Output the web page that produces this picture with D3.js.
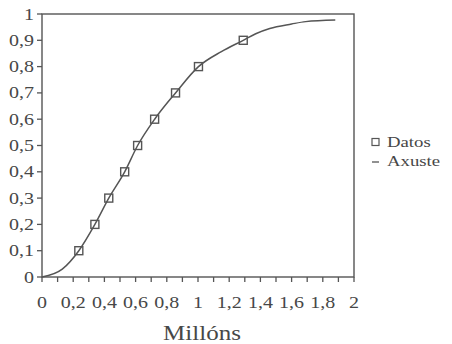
<!DOCTYPE html>
<html>
<head>
<meta charset="utf-8">
<script src="https://cdn.jsdelivr.net/npm/d3@7"></script>
<style>
  html, body { margin: 0; padding: 0; background: #fff; }
</style>
</head>
<body>
<svg id="chart" width="452" height="344"></svg>
<script>
// Observed data (millions, cumulative fraction)
const datosX = [0.236, 0.339, 0.428, 0.53, 0.613, 0.722, 0.856, 1.003, 1.29];
const datosY = [0.1, 0.2, 0.3, 0.4, 0.5, 0.6, 0.7, 0.8, 0.9];

// Fitted curve
const axusteX = [0, 0.13, 0.236, 0.339, 0.428, 0.53, 0.613, 0.722, 0.856, 1.003, 1.15, 1.29, 1.37, 1.46, 1.6, 1.69, 1.88];
const axusteY = [0, 0.03, 0.1, 0.2, 0.3, 0.4, 0.5, 0.6, 0.7, 0.8, 0.857, 0.9, 0.925, 0.945, 0.962, 0.971, 0.977];

const xTickValues = [0, 0.2, 0.4, 0.6, 0.8, 1, 1.2, 1.4, 1.6, 1.8, 2];
const yTickValues = [0, 0.1, 0.2, 0.3, 0.4, 0.5, 0.6, 0.7, 0.8, 0.9, 1];
const legendLabels = ["Datos", "Axuste"];
const xTitle = "Millóns";

const ink = "#555";
const textInk = "#474747";
const FONT = "'Liberation Serif', Tinos, 'Times New Roman', Times, serif";
const svg = d3.select("#chart");
const L = 42, R = 354, T = 14, B = 277;

const x = d3.scaleLinear().domain([0, 2]).range([L, R]);
const y = d3.scaleLinear().domain([0, 1]).range([B, T]);
const fmt = v => String(+v.toFixed(1)).replace(".", ",");
const SX = 1.25; // wide serif lettering

function label(sel) {
  return sel.attr("font-family", FONT).attr("fill", textInk);
}

// frame
svg.append("rect")
  .attr("x", L).attr("y", T).attr("width", R - L).attr("height", B - T)
  .attr("fill", "none").attr("stroke", ink).attr("stroke-width", 1.4);

// x ticks every 0.1
svg.append("g").selectAll("line")
  .data(d3.range(0, 21).map(i => i / 10))
  .join("line")
  .attr("x1", d => x(d)).attr("x2", d => x(d))
  .attr("y1", B).attr("y2", B + 5)
  .attr("stroke", ink).attr("stroke-width", 1.3);

svg.append("g").selectAll("text")
  .data(xTickValues)
  .join("text")
  .call(label)
  .attr("transform", d => `translate(${x(d)},${B + 31}) scale(${SX},1)`)
  .attr("text-anchor", "middle")
  .attr("font-size", 16)
  .text(fmt);

// y ticks
svg.append("g").selectAll("line")
  .data(yTickValues)
  .join("line")
  .attr("x1", L - 5).attr("x2", L)
  .attr("y1", d => y(d)).attr("y2", d => y(d))
  .attr("stroke", ink).attr("stroke-width", 1.3);

svg.append("g").selectAll("text")
  .data(yTickValues)
  .join("text")
  .call(label)
  .attr("transform", d => `translate(${L - 8},${y(d) + 5.5}) scale(${SX},1)`)
  .attr("text-anchor", "end")
  .attr("font-size", 16)
  .text(fmt);

// axis title
svg.append("text")
  .call(label)
  .attr("transform", `translate(${(L + R) / 2 + 4},${340}) scale(${SX},1)`)
  .attr("text-anchor", "middle")
  .attr("font-size", 20)
  .text(xTitle);

// fitted curve
const line = d3.line().x(d => x(d[0])).y(d => y(d[1])).curve(d3.curveMonotoneX);
svg.append("path")
  .datum(d3.zip(axusteX, axusteY))
  .attr("d", line)
  .attr("fill", "none").attr("stroke", ink).attr("stroke-width", 1.5);

// data squares
const s = 8;
svg.append("g").selectAll("rect")
  .data(d3.zip(datosX, datosY))
  .join("rect")
  .attr("x", d => x(d[0]) - s / 2).attr("y", d => y(d[1]) - s / 2)
  .attr("width", s).attr("height", s)
  .attr("fill", "none").attr("stroke", ink).attr("stroke-width", 1.4);

// legend
const lg = svg.append("g");
lg.append("rect").attr("x", 372).attr("y", 138.5).attr("width", 7).attr("height", 7)
  .attr("fill", "none").attr("stroke", ink).attr("stroke-width", 1.2);
lg.append("line").attr("x1", 372).attr("x2", 379).attr("y1", 162).attr("y2", 162)
  .attr("stroke", ink).attr("stroke-width", 1.3);
lg.selectAll("text")
  .data(legendLabels)
  .join("text")
  .call(label)
  .attr("transform", (d, i) => `translate(387,${147 + i * 19}) scale(${SX},1)`)
  .attr("font-size", 15)
  .text(d => d);
</script>
</body>
</html>
